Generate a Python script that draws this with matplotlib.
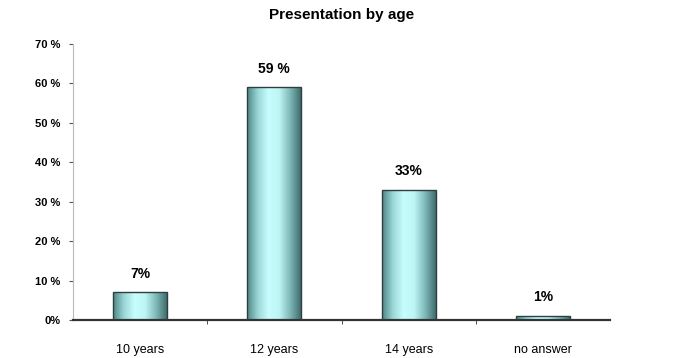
import numpy as np
import matplotlib.pyplot as plt
from matplotlib.colors import LinearSegmentedColormap

categories = ["10 years", "12 years", "14 years", "no answer"]
values = [7, 59, 33, 1]
value_labels = ["7%", "59 %", "33%", "1%"]
yticks = [0, 10, 20, 30, 40, 50, 60, 70]
ytick_labels = ["0%", "10 %", "20 %", "30 %", "40 %", "50 %", "60 %", "70 %"]

plt.rcParams["font.family"] = ["Liberation Sans", "DejaVu Sans"]

fig = plt.figure(figsize=(6.81, 3.58), dpi=100)
ax = fig.add_axes([0.107, 0.106, 0.789, 0.771])

cyl = LinearSegmentedColormap.from_list(
    "cyl", ["#4f8585", "#9ad6d6", "#c8fdfd", "#bdf4f4", "#7fb8b8", "#3f6d6d"]
)
grad = np.linspace(0, 1, 256).reshape(1, -1)
width = 0.4
x = np.arange(len(categories))
bars = ax.bar(x, values, width, color="none", edgecolor="#2f3f3f", linewidth=1.0, zorder=3)
for bar in bars:
    x0, w, h = bar.get_x(), bar.get_width(), bar.get_height()
    im = ax.imshow(grad, cmap=cyl, aspect="auto", extent=(x0, x0 + w, 0, h), zorder=2)
    im.set_clip_path(bar)

for xi, v, lab in zip(x, values, value_labels):
    ax.text(xi, v + 3, lab, ha="center", va="bottom", fontsize=10, fontweight="bold")

ax.set_xlim(-0.5, len(categories) - 0.5)
ax.set_ylim(0, 70)
ax.set_yticks(yticks, ytick_labels, fontsize=8, fontweight="bold")
ax.set_xticks(x, categories, fontsize=9)
ax.tick_params(axis="x", length=0, pad=17)
ax.set_xticks([0.5, 1.5, 2.5], minor=True)
ax.tick_params(axis="x", which="minor", length=3, direction="out", color="#333333")
ax.tick_params(axis="y", length=3, color="#555555", pad=6)
for s in ("top", "right"):
    ax.spines[s].set_visible(False)
ax.spines["left"].set_color("#bbbbbb")
ax.spines["bottom"].set_color("#333333")
ax.spines["bottom"].set_linewidth(1.6)
ax.set_title("Presentation by age", fontsize=11, fontweight="bold", pad=18)

fig.savefig("out.png", dpi=100)
